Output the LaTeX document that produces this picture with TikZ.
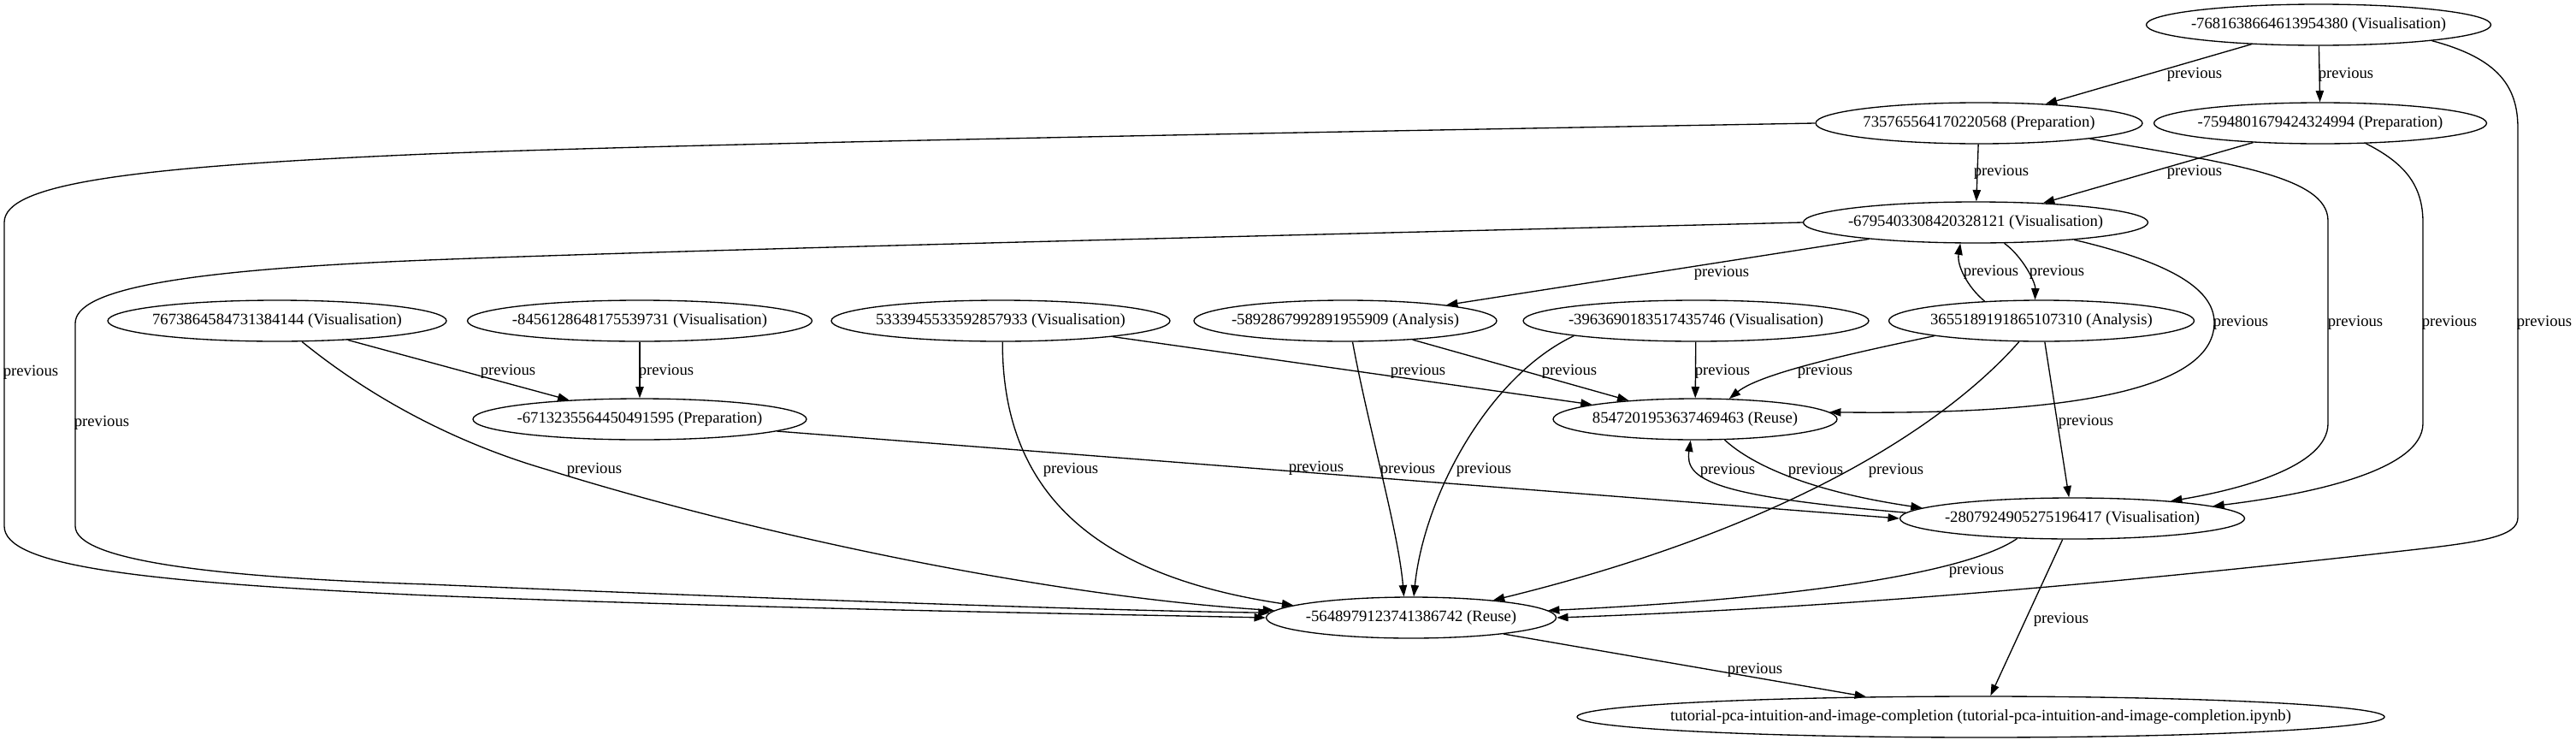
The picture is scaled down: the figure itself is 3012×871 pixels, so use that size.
\documentclass[tikz,border=0pt]{standalone}
\usepackage{fontspec}
\setmainfont{Liberation Serif}
\usetikzlibrary{shapes.geometric,arrows.meta}
\tikzset{
  nd/.style={draw, ellipse, line width=1pt, inner xsep=-150pt, inner ysep=0pt,
    minimum height=36pt, font=\fontsize{14pt}{16pt}\selectfont},
  lbl/.style={inner sep=0pt, font=\fontsize{14pt}{16pt}\selectfont},
  edge/.style={draw, line width=1pt, -{Triangle[length=10pt,width=7pt]}}
}
\begin{document}
\begin{tikzpicture}[x=0.75pt, y=-0.75pt]
\fill[white] (0,0) rectangle (3012,871);
\useasboundingbox (0,0) rectangle (3012,871);
% nodes
\node[nd, minimum width=302.25pt] (A) at (2711,29) {-7681638664613954380 (Visualisation)};
\node[nd, minimum width=286.5pt] (B) at (2314,144) {735765564170220568 (Preparation)};
\node[nd, minimum width=291.75pt] (C) at (2713,144) {-7594801679424324994 (Preparation)};
\node[nd, minimum width=302.25pt] (D) at (2310,260) {-6795403308420328121 (Visualisation)};
\node[nd, minimum width=297pt] (E) at (324,375) {7673864584731384144 (Visualisation)};
\node[nd, minimum width=302.25pt] (F) at (748,375) {-8456128648175539731 (Visualisation)};
\node[nd, minimum width=297pt] (G) at (1170,375) {5333945533592857933 (Visualisation)};
\node[nd, minimum width=265.5pt] (H) at (1573,375) {-5892867992891955909 (Analysis)};
\node[nd, minimum width=303pt] (I) at (1983,375) {-3963690183517435746 (Visualisation)};
\node[nd, minimum width=267.75pt] (J) at (2387,375) {3655189191865107310 (Analysis)};
\node[nd, minimum width=292.5pt] (K) at (748,490) {-6713235564450491595 (Preparation)};
\node[nd, minimum width=249pt] (L) at (1982,490) {8547201953637469463 (Reuse)};
\node[nd, minimum width=302.25pt] (M) at (2423,606) {-2807924905275196417 (Visualisation)};
\node[nd, minimum width=254.25pt] (N) at (1650,722) {-5648979123741386742 (Reuse)};
\node[nd, minimum width=708pt] (O) at (2316,838) {tutorial-pca-intuition-and-image-completion (tutorial-pca-intuition-and-image-completion.ipynb)};
% edges
\draw[edge] (A) -- (B) node[lbl] at (2566,87) {previous};
\draw[edge] (A) -- (C) node[lbl] at (2743,87) {previous};
\draw[edge] (A.-8) .. controls (2920,68) and (2944,100) .. (2944,150) -- (2944,605)
  .. controls (2944,628) and (2900,634) .. (2800,645)
  .. controls (2400,690) and (2100,712) .. (N.0) node[lbl] at (2975,377) {previous};
\draw[edge] (B) -- (D) node[lbl] at (2340,201) {previous};
\draw[edge] (C) -- (D) node[lbl] at (2566,201) {previous};
\draw[edge] (B.west) .. controls (1500,155) and (800,168) .. (500,180)
  .. controls (150,195) and (5,215) .. (5,260) -- (5,615)
  .. controls (5,660) and (150,680) .. (500,696)
  .. controls (900,712) and (1300,718) .. (N.180) node[lbl] at (36,435) {previous};
\draw[edge] (B.-8) .. controls (2600,190) and (2722,205) .. (2722,258) -- (2722,495)
  .. controls (2722,545) and (2620,572) .. (M.10) node[lbl] at (2754,377) {previous};
\draw[edge] (C.-24) .. controls (2810,190) and (2833,215) .. (2833,260) -- (2833,495)
  .. controls (2833,550) and (2700,578) .. (M.5) node[lbl] at (2864,377) {previous};
\draw[edge] (D.west) .. controls (1500,275) and (800,292) .. (500,304)
  .. controls (200,316) and (88,340) .. (88,378) -- (88,615)
  .. controls (88,655) and (250,675) .. (500,683)
  .. controls (900,700) and (1300,714) .. (N.178) node[lbl] at (119,494) {previous};
\draw[edge] (D) -- (H) node[lbl] at (2013,319) {previous};
\draw[edge] (D.-36) .. controls (2365,300) and (2380,330) .. (J.107) node[lbl] at (2405,318) {previous};
\draw[edge] (J.161) .. controls (2300,335) and (2288,310) .. (D.-126) node[lbl] at (2328,318) {previous};
\draw[edge] (D.-10) .. controls (2530,305) and (2589,335) .. (2589,377)
  .. controls (2589,460) and (2400,485) .. (L.3) node[lbl] at (2620,377) {previous};
\draw[edge] (E) -- (K) node[lbl] at (594,434) {previous};
\draw[edge] (E.-40) .. controls (440,470) and (540,520) .. (640,549)
  .. controls (850,615) and (1200,695) .. (N.177) node[lbl] at (695,549) {previous};
\draw[edge] (F) -- (K) node[lbl] at (779,434) {previous};
\draw[edge] (G) -- (L) node[lbl] at (1658,434) {previous};
\draw[edge] (G.-85) .. controls (1172,560) and (1260,670) .. (N.174) node[lbl] at (1252,549) {previous};
\draw[edge] (H) -- (L) node[lbl] at (1835,434) {previous};
\draw[edge] (H.-71) .. controls (1600,500) and (1635,620) .. (N.109) node[lbl] at (1646,549) {previous};
\draw[edge] (I) -- (L) node[lbl] at (2014,434) {previous};
\draw[edge] (I.187) .. controls (1740,440) and (1665,580) .. (N.83) node[lbl] at (1735,549) {previous};
\draw[edge] (J.188) .. controls (2180,410) and (2060,435) .. (L.31) node[lbl] at (2134,434) {previous};
\draw[edge] (J.223) .. controls (2290,480) and (2120,610) .. (N.12) node[lbl] at (2217,550) {previous};
\draw[edge] (J) -- (M) node[lbl] at (2439,493) {previous};
\draw[edge] (K.-5) -- (M.180) node[lbl] at (1539,547) {previous};
\draw[edge] (L.-35) .. controls (2050,545) and (2120,575) .. (M.176) node[lbl] at (2123,550) {previous};
\draw[edge] (M.178) .. controls (2000,580) and (1970,560) .. (L.-102) node[lbl] at (2020,550) {previous};
\draw[edge] (M.200) .. controls (2300,670) and (2100,700) .. (N.3) node[lbl] at (2311,667) {previous};
\draw[edge] (M) -- (O) node[lbl] at (2410,724) {previous};
\draw[edge] (N.-10) -- (O.170) node[lbl] at (2052,783) {previous};
\end{tikzpicture}
\end{document}
